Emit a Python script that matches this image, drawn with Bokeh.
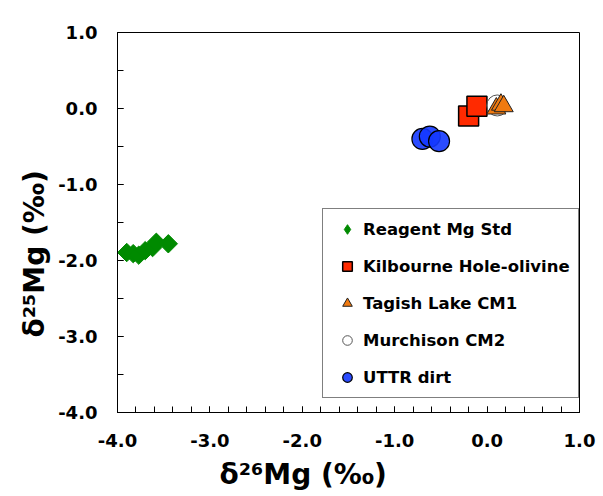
import numpy as np
from bokeh.plotting import figure
from bokeh.models import (Legend, LegendItem, Title, FixedTicker, Range1d,
                          NumeralTickFormatter)
from bokeh.embed import file_html
from bokeh.resources import INLINE

# ---- data ----
reagent_x = [-3.90, -3.83, -3.77, -3.70, -3.62, -3.58, -3.45]
reagent_y = [-1.895, -1.91, -1.93, -1.87, -1.83, -1.76, -1.78]
kilbourne_x = [-0.20, -0.11]
kilbourne_y = [-0.10, 0.03]
murchison_x = [0.11]
murchison_y = [0.04]
tagish_x = [0.10, 0.15, 0.18]
tagish_y = [0.00, 0.05, 0.03]
uttr_x = [-0.70, -0.62, -0.52]
uttr_y = [-0.40, -0.37, -0.43]

x_ticks = [-4, -3, -2, -1, 0, 1]
x_minor = [round(v, 1) for v in np.arange(-4.0, 1.01, 0.2)]
y_ticks = [-4, -3, -2, -1, 0, 1]
y_minor = [-4, -3.5, -3, -2.5, -2, -1.5, -1, -0.5, 0, 0.5, 1]

x_title = "δ²⁶Mg (‰)"
y_title = "δ²⁵Mg (‰)"

FONT = "DejaVu Sans"

p = figure(width=603, height=496, output_backend="svg", toolbar_location=None,
           x_range=Range1d(-4, 1), y_range=Range1d(-4, 1),
           min_border_left=117, min_border_right=24, min_border_top=32,
           min_border_bottom=84)
p.background_fill_color = "white"
p.border_fill_color = "white"
p.outline_line_color = "black"
p.outline_line_width = 1
p.xgrid.visible = False
p.ygrid.visible = False

r_reag = p.scatter(reagent_x, reagent_y, marker="square", angle=np.pi / 4, size=13,
                   fill_color="#008a00", line_color="#008a00")
# legend-only key glyph (a diamond); its point is not drawn (NaN position)
r_reag_key = p.scatter([np.nan], [np.nan], marker="diamond", size=14,
                       fill_color="#008a00", line_color="#008a00")
r_kil = p.scatter(kilbourne_x, kilbourne_y, marker="square", size=20,
                  fill_color="#ff2a00", line_color="black", line_width=1.5)
r_mur = p.scatter(murchison_x, murchison_y, marker="circle", size=21,
                  fill_color="white", fill_alpha=0.3, line_color="#555555", line_width=1)
r_tag = p.scatter(tagish_x, tagish_y, marker="triangle", size=19,
                  fill_color="#f07a10", line_color="#222222", line_width=1)
r_utt = p.scatter(uttr_x, uttr_y, marker="circle", size=21,
                  fill_color="#1438ff", fill_alpha=0.9, line_color="black", line_width=1.2)

for ax, ticks, minor in ((p.xaxis[0], x_ticks, x_minor), (p.yaxis[0], y_ticks, y_minor)):
    ax.ticker = FixedTicker(ticks=ticks, minor_ticks=minor)
    ax.formatter = NumeralTickFormatter(format="0.0")
    ax.major_tick_in = 6
    ax.major_tick_out = 0
    ax.minor_tick_in = 6
    ax.minor_tick_out = 0
    ax.major_tick_line_color = "black"
    ax.minor_tick_line_color = "black"
    ax.axis_line_color = "black"
    ax.major_label_text_font = FONT
    ax.major_label_text_font_style = "bold"
    ax.major_label_text_font_size = "18px"
    ax.major_label_text_color = "black"
p.xaxis.major_label_standoff = 21
p.yaxis.major_label_standoff = 20

xt = Title(text=x_title, align="left", offset=102, standoff=12,
           text_font=FONT, text_font_style="bold", text_font_size="28px",
           text_color="black")
p.add_layout(xt, "below")
yt = Title(text=y_title, align="left", offset=75, standoff=9,
           text_font=FONT, text_font_style="bold", text_font_size="28px",
           text_color="black")
p.add_layout(yt, "left")

legend = Legend(items=[
    LegendItem(label="Reagent Mg Std", renderers=[r_reag_key]),
    LegendItem(label="Kilbourne Hole-olivine", renderers=[r_kil]),
    LegendItem(label="Tagish Lake CM1", renderers=[r_tag]),
    LegendItem(label="Murchison CM2", renderers=[r_mur]),
    LegendItem(label="UTTR dirt", renderers=[r_utt]),
], location=(205, 14))
legend.padding = 8
legend.margin = 0
legend.spacing = 13
legend.label_height = 24
legend.glyph_height = 24
legend.glyph_width = 32
legend.label_standoff = 0
legend.label_text_font = FONT
legend.label_text_font_style = "bold"
legend.label_text_font_size = "16.5px"
legend.label_text_color = "black"
legend.label_text_baseline = "middle"
legend.border_line_color = "black"
legend.border_line_width = 1
legend.background_fill_color = "white"
legend.background_fill_alpha = 1
p.add_layout(legend, "center")

open("out.html", "w").write(file_html(p, INLINE))
